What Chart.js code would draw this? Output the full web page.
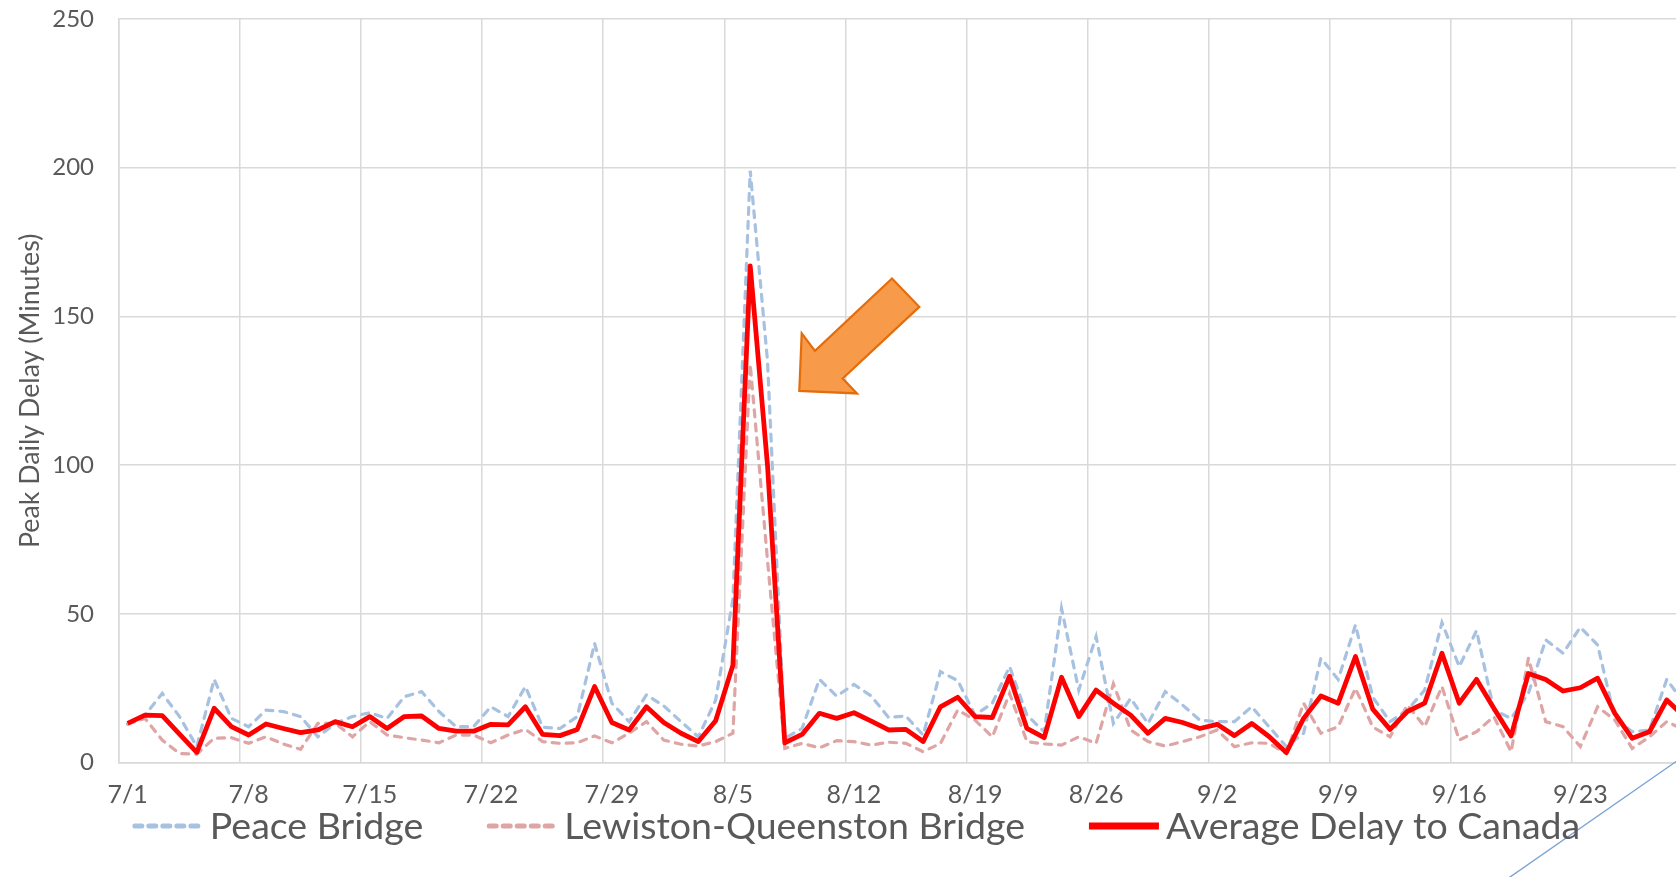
<!DOCTYPE html>
<html>
<head>
<meta charset="utf-8">
<script src="https://cdn.jsdelivr.net/npm/chart.js@4.4.1/dist/chart.umd.min.js"></script>
<style>
html,body{margin:0;padding:0;background:#ffffff;overflow:hidden;width:1676px;height:877px;}
#c{position:absolute;left:0;top:0;}
</style>
</head>
<body>
<canvas id="c" width="1710" height="877"></canvas>
<script>
// ---- categories (daily) ----
const dates = [
 "7/1","7/2","7/3","7/4","7/5","7/6","7/7","7/8","7/9","7/10","7/11","7/12","7/13","7/14","7/15","7/16",
 "7/17","7/18","7/19","7/20","7/21","7/22","7/23","7/24","7/25","7/26","7/27","7/28","7/29","7/30","7/31",
 "8/1","8/2","8/3","8/4","8/5","8/6","8/7","8/8","8/9","8/10","8/11","8/12","8/13","8/14","8/15","8/16",
 "8/17","8/18","8/19","8/20","8/21","8/22","8/23","8/24","8/25","8/26","8/27","8/28","8/29","8/30","8/31",
 "9/1","9/2","9/3","9/4","9/5","9/6","9/7","9/8","9/9","9/10","9/11","9/12","9/13","9/14","9/15","9/16",
 "9/17","9/18","9/19","9/20","9/21","9/22","9/23","9/24","9/25","9/26","9/27","9/28","9/29","9/30"
];
// ---- tick labels shown on the x axis ----
const tickLabels = ["7/1","7/8","7/15","7/22","7/29","8/5","8/12","8/19","8/26","9/2","9/9","9/16","9/23"];
// ---- y axis ticks ----
const yTicks = [0, 50, 100, 150, 200, 250];

// ---- series (minutes) ----
const peaceBridge = [
 13,16,23.3,15.5,5.4,28,14.9,12.1,17.7,17.2,15.5,8.7,13.2,15.5,16.8,14.9,
 22.2,23.9,17.2,12.1,12.1,18.8,15.5,25.6,11.9,11.5,15.5,40.1,20,13.8,22.8,
 19.1,13.8,8.7,21,55,199,135,8.2,11.5,28,22.4,26.3,22.4,15.2,15.7,9.3,
 30.6,27.6,16,20,32.3,16,10.4,51.9,24.4,42.4,13.2,21.6,13.2,23.9,19.4,
 14.3,13.8,13.8,18.8,12.1,5.4,9.9,35.1,28,46.3,22,13.8,17.7,24.4,47.1,32.3,
 44.4,17.7,14.9,23.3,41.3,36.8,45.5,39.6,14.9,10.4,11,28,20,17
];
const lewistonQueenston = [
 13,14.9,7.6,3.1,2.9,8.2,8.4,6.5,8.7,6.3,4.5,13.2,13.2,8.7,13.8,9.3,
 8.4,7.6,6.7,9.3,9.3,6.7,9.3,11.2,7.1,6.5,6.7,9,6.7,9.9,13.8,
 7.6,6.2,5.6,7.1,9.9,134,68,4.8,6.5,5,7.4,7.1,5.9,6.9,6.5,3.7,
 6.5,17.7,14.3,8.7,23.3,7.1,6.3,5.9,8.7,6.5,26.5,11,7.1,5.6,7.1,
 8.7,11,5.4,6.7,6.5,3.1,20,9.9,12.1,25,12,8.7,19.4,12.1,25.6,7.6,
 10.4,15.5,3.7,35.1,13.8,12.1,5.4,18.8,14.3,4.8,8.7,13.8,11,10
];
const averageDelay = [
 13.2,16,15.8,9.6,3.5,18.3,12.1,9.3,13,11.5,10.1,11,13.8,12.1,15.5,11.5,
 15.5,15.7,11.5,10.6,10.6,12.9,12.7,18.8,9.5,9.1,11.2,25.6,13.5,11,18.8,
 13.5,9.9,7.1,14.1,32.8,167,100,6.7,9.5,16.6,14.9,16.8,14,11,11.2,7.1,
 18.8,22,15.5,15.2,29.1,11.5,8.4,28.7,15.5,24.4,20,16,9.9,14.9,13.5,
 11.5,12.9,9.1,13.2,8.8,3.4,14.9,22.4,20,35.7,18,11.2,17.2,20,36.8,20,
 28,18.3,9,30,28,24.1,25.2,28.4,16.6,8.2,10.4,21.1,15.5,13.5
];

const TEXT = '#595959';
const GRID = '#D9D9D9';
const FONT = 'Lato, "Open Sans", sans-serif';

// annotation arrow (points down-left toward the spike)
const arrowPlugin = {
  id: 'arrow',
  afterDatasetsDraw(chart) {
    const {ctx, scales: {x, y}} = chart;
    const tx = x.getPixelForValue(38) + 14.5;
    const ty = y.getPixelForValue(125);
    const pts = [[0,0],[2.4,-57.4],[15.7,-40],[92.7,-112.4],[120,-84],[43.4,-12.4],[57.7,2.6]];
    ctx.save();
    ctx.beginPath();
    pts.forEach((p,i)=>{ const px=tx+p[0], py=ty+p[1]; i?ctx.lineTo(px,py):ctx.moveTo(px,py); });
    ctx.closePath();
    ctx.fillStyle = '#F79A4A';
    ctx.fill();
    ctx.lineWidth = 2.2;
    ctx.strokeStyle = '#E46C0A';
    ctx.lineJoin = 'miter';
    ctx.stroke();
    ctx.restore();
  }
};

// thin connector line at lower right and custom legend
const legendPlugin = {
  id: 'customLegend',
  afterDraw(chart) {
    const ctx = chart.ctx;
    ctx.save();
    // stray connector line
    ctx.beginPath();
    ctx.moveTo(1500, 884);
    ctx.lineTo(1710, 738);
    ctx.strokeStyle = '#7BA3D4';
    ctx.lineWidth = 1.4;
    ctx.stroke();

    const sets = chart.data.datasets;
    ctx.font = '37.5px ' + FONT;
    const lineLen = 70, gapText = 7, gapItem = 64;
    const widths = sets.map(d => ctx.measureText(d.label).width);
    let total = 0;
    widths.forEach((w,i)=>{ total += lineLen + gapText + w + (i < widths.length-1 ? gapItem : 0); });
    let xx = 856.5 - total/2;
    const ly = 826, by = 839;
    sets.forEach((d,i)=>{
      ctx.beginPath();
      ctx.setLineDash(d.borderDash || []);
      ctx.lineCap = d.borderCapStyle || 'butt';
      ctx.strokeStyle = d.borderColor;
      ctx.lineWidth = d.legendWidth || d.borderWidth;
      ctx.moveTo(xx + (d.borderDash ? 2 : 0), ly);
      ctx.lineTo(xx + lineLen, ly);
      ctx.stroke();
      ctx.setLineDash([]);
      ctx.fillStyle = TEXT;
      ctx.textAlign = 'left';
      ctx.textBaseline = 'alphabetic';
      ctx.fillText(d.label, xx + lineLen + gapText, by);
      xx += lineLen + gapText + widths[i] + gapItem;
    });
    ctx.restore();
  }
};

new Chart(document.getElementById('c').getContext('2d'), {
  type: 'line',
  data: {
    labels: dates,
    datasets: [
      { label: 'Peace Bridge', data: peaceBridge, borderColor: '#A7C1E1', borderWidth: 3.2,
        borderDash: [7, 7], borderCapStyle: 'round', pointRadius: 0, tension: 0, fill: false, order: 2, legendWidth: 5 },
      { label: 'Lewiston-Queenston Bridge', data: lewistonQueenston, borderColor: '#DFA4A4', borderWidth: 3.2,
        borderDash: [7, 7], borderCapStyle: 'round', pointRadius: 0, tension: 0, fill: false, order: 1, legendWidth: 5 },
      { label: 'Average Delay to Canada', data: averageDelay, borderColor: '#FF0000', borderWidth: 4.8,
        borderJoinStyle: 'round', pointRadius: 0, tension: 0, fill: false, order: 0, legendWidth: 7 }
    ]
  },
  options: {
    responsive: false,
    animation: false,
    events: [],
    layout: { padding: { top: 19, left: 0, right: 0, bottom: 0 } },
    plugins: { legend: { display: false }, tooltip: { enabled: false } },
    scales: {
      x: {
        type: 'category',
        offset: true,
        grid: { offset: true, drawTicks: false, lineWidth: 1.5,
                color: (c) => (c.index % 7 === 0 ? GRID : 'rgba(0,0,0,0)') },
        border: { display: true, color: GRID, width: 1.5 },
        ticks: {
          autoSkip: false, maxRotation: 0, minRotation: 0, padding: 17,
          color: TEXT, font: { family: FONT, size: 25 },
          callback: function (v) { const l = this.getLabelForValue(v); return tickLabels.includes(l) ? l : ''; }
        },
        afterFit: (s) => { s.height = 114.3; s.paddingLeft = 0; s.paddingRight = 0; }
      },
      y: {
        min: 0, max: 250,
        afterBuildTicks: (s) => { s.ticks = yTicks.map(v => ({ value: v })); },
        grid: { drawTicks: false, lineWidth: 1.5, color: GRID },
        border: { display: true, color: GRID, width: 1.5 },
        ticks: { padding: 25, color: TEXT, font: { family: FONT, size: 24 } },
        title: { display: true, text: 'Peak Daily Delay (Minutes)', color: TEXT,
                 font: { family: FONT, size: 26.8 }, padding: { top: 14, bottom: 0 } },
        afterFit: (s) => { s.width = 119; s.paddingTop = 0; s.paddingBottom = 0; }
      }
    }
  },
  plugins: [arrowPlugin, legendPlugin]
});
</script>
</body>
</html>
